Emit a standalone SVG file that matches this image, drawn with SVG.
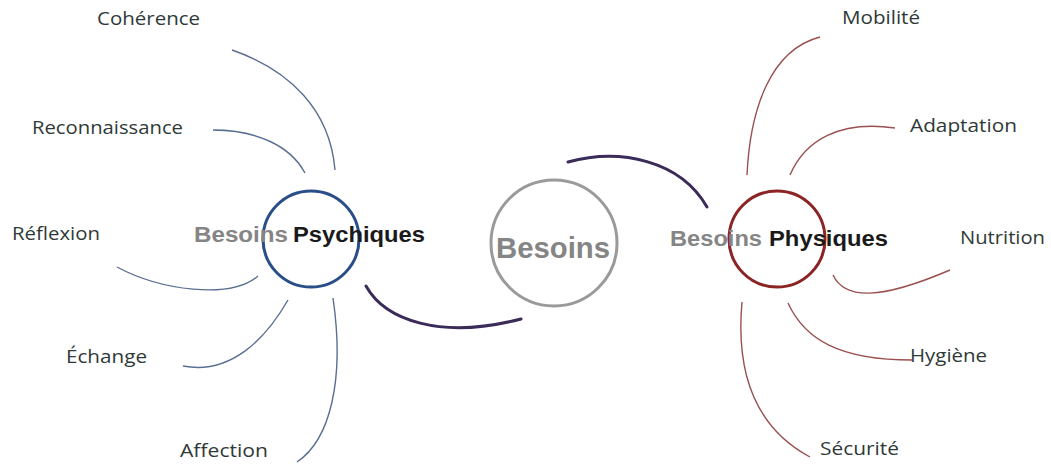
<svg xmlns="http://www.w3.org/2000/svg" width="1051" height="464" viewBox="0 0 1051 464">
<style>
.leaf{font-family:"Open Sans","Liberation Sans",sans-serif;font-size:19px;fill:#2f3a38}
.hub{font-family:"Liberation Sans",Arial,sans-serif;font-weight:bold;font-size:22px}
.gray{fill:#858585}
.dark{fill:#1a1a1a}
.lb{fill:none;stroke:#5a6f92;stroke-width:1.4}
.lr{fill:none;stroke:#9a5050;stroke-width:1.4}
.lp{fill:none;stroke:#3b2b58;stroke-width:3;stroke-linecap:round}
</style>
<rect width="1051" height="464" fill="#fff"/>
<g id="connectors">
<path class="lp" d="M568,162 C620,148 680,160 707,207"/>
<path class="lp" d="M366,286 C385,320 440,340 521,319"/>
<path class="lb" d="M232,50 C290,70 330,110 335,170"/>
<path class="lb" d="M213,130 C255,130 290,145 305,173"/>
<path class="lb" d="M117,267 C160,290 230,300 258,276"/>
<path class="lb" d="M183,366 C230,375 265,340 288,300"/>
<path class="lb" d="M297,462 C330,440 345,380 333,298"/>
<path class="lr" d="M820,37 C770,50 750,110 747,175"/>
<path class="lr" d="M895,128 C840,120 805,140 790,175"/>
<path class="lr" d="M833,275 C845,300 880,300 950,270"/>
<path class="lr" d="M788,303 C805,340 840,360 912,360"/>
<path class="lr" d="M742,302 C735,380 760,430 810,457"/>
</g>
<g id="besoins">
<circle cx="554" cy="243" r="63" fill="none" stroke="#9a9a9a" stroke-width="3"/>
<text x="496" y="258" textLength="114" lengthAdjust="spacingAndGlyphs" class="hub gray" style="font-size:29px">Besoins</text>
</g>
<g id="psychiques">
<circle cx="311" cy="239" r="48" fill="none" stroke="#2a4e88" stroke-width="3"/>
<text x="194" y="242" textLength="94" lengthAdjust="spacingAndGlyphs" class="hub gray">Besoins</text>
<text x="293" y="242" textLength="132" lengthAdjust="spacingAndGlyphs" class="hub dark">Psychiques</text>
</g>
<g id="physiques">
<circle cx="777" cy="239" r="48" fill="none" stroke="#8b2424" stroke-width="3"/>
<text x="670" y="246" textLength="92" lengthAdjust="spacingAndGlyphs" class="hub gray">Besoins</text>
<text x="769" y="246" textLength="119" lengthAdjust="spacingAndGlyphs" class="hub dark">Physiques</text>
</g>
<g id="coherence"><text x="97" y="25" class="leaf" textLength="103" lengthAdjust="spacingAndGlyphs">Cohérence</text></g>
<g id="reconnaissance"><text x="32" y="134" class="leaf" textLength="151" lengthAdjust="spacingAndGlyphs">Reconnaissance</text></g>
<g id="reflexion"><text x="12" y="240" class="leaf" textLength="88" lengthAdjust="spacingAndGlyphs">Réflexion</text></g>
<g id="echange"><text x="66" y="363" class="leaf" textLength="81" lengthAdjust="spacingAndGlyphs">Échange</text></g>
<g id="affection"><text x="180" y="457" class="leaf" textLength="88" lengthAdjust="spacingAndGlyphs">Affection</text></g>
<g id="mobilite"><text x="842" y="24" class="leaf" textLength="78" lengthAdjust="spacingAndGlyphs">Mobilité</text></g>
<g id="adaptation"><text x="910" y="132" class="leaf" textLength="107" lengthAdjust="spacingAndGlyphs">Adaptation</text></g>
<g id="nutrition"><text x="960" y="244" class="leaf" textLength="85" lengthAdjust="spacingAndGlyphs">Nutrition</text></g>
<g id="hygiene"><text x="910" y="362" class="leaf" textLength="77" lengthAdjust="spacingAndGlyphs">Hygiène</text></g>
<g id="securite"><text x="820" y="455" class="leaf" textLength="79" lengthAdjust="spacingAndGlyphs">Sécurité</text></g>
</svg>
